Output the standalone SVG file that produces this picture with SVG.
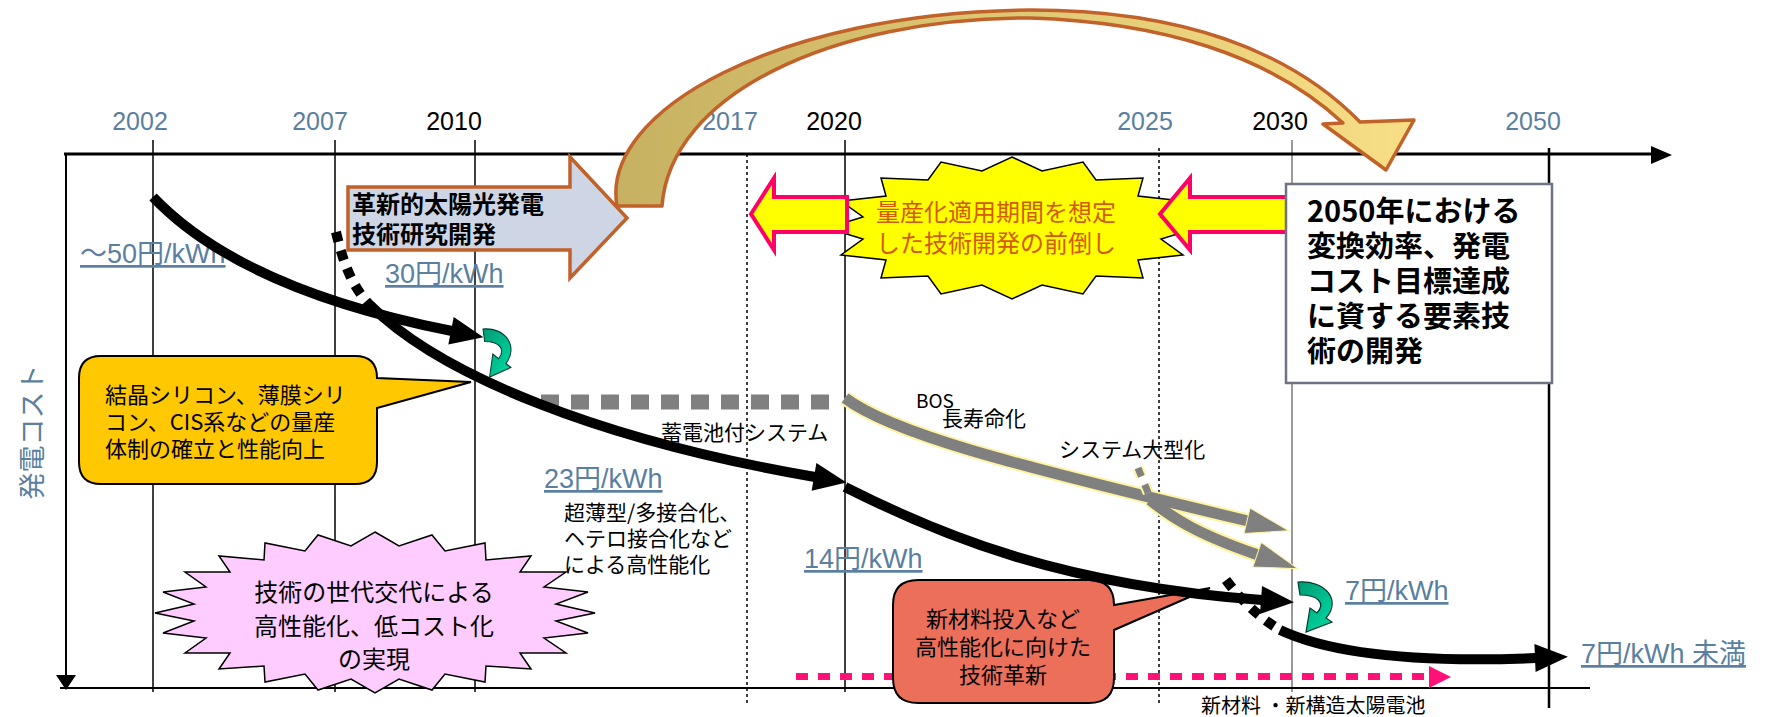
<svg xmlns="http://www.w3.org/2000/svg" width="1768" height="717" viewBox="0 0 1768 717">
<style>
.yr{font-family:'Liberation Sans','Noto Sans CJK JP',sans-serif;font-size:25px;text-anchor:middle}
.blue{fill:#5B7FA0}
.price{font-family:'Liberation Sans','Noto Sans CJK JP',sans-serif;font-size:27px;fill:#5B7FA0;text-decoration:underline}
.jp{font-family:'Noto Sans CJK JP','Liberation Sans',sans-serif;fill:#000}
.grid{stroke:#000;stroke-width:1.5;fill:none}
.dot{stroke:#000;stroke-width:1.5;stroke-dasharray:3 3;fill:none}
.blk{stroke:#000;stroke-width:10;fill:none}
.blkdot{stroke:#000;stroke-width:10;fill:none;stroke-dasharray:10 9}
</style>
<defs>
<marker id="ah" markerUnits="userSpaceOnUse" markerWidth="40" markerHeight="32" refX="1" refY="14" orient="auto" overflow="visible"><path d="M0,0 L33,14 L0,28 Z" fill="#000"/></marker>
<marker id="gah" markerUnits="userSpaceOnUse" markerWidth="48" markerHeight="30" refX="1" refY="13" orient="auto" overflow="visible"><path d="M0,0 L43,13 L0,26 Z" fill="#808080" stroke="#FFF3A0" stroke-width="1"/></marker>
<linearGradient id="gCurve" x1="0" y1="0" x2="1" y2="0"><stop offset="0" stop-color="#C6B162"/><stop offset="1" stop-color="#F8DF86"/></linearGradient>
<linearGradient id="gGreen" x1="0" y1="0" x2="1" y2="1"><stop offset="0" stop-color="#009A74"/><stop offset="1" stop-color="#00DCA4"/></linearGradient>
<path id="curl" d="M0,0 C27,-2 44,18 28,36 L34,40 L8,50 L12,26 L19,31 C28,21 20,13 2,13 Z" fill="url(#gGreen)" stroke="#003B2E" stroke-width="1.2"/>
</defs>

<g id="axes">
<text class="yr blue" x="140" y="130">2002</text>
<text class="yr blue" x="320" y="130">2007</text>
<text class="yr" x="454" y="130">2010</text>
<text class="yr blue" x="730" y="130">2017</text>
<text class="yr" x="834" y="130">2020</text>
<text class="yr blue" x="1145" y="130">2025</text>
<text class="yr" x="1280" y="130">2030</text>
<text class="yr blue" x="1533" y="130">2050</text>
<line class="grid" x1="153" y1="140" x2="153" y2="692"/>
<line class="grid" x1="335" y1="140" x2="335" y2="692"/>
<line class="grid" x1="475" y1="140" x2="475" y2="692"/>
<line class="dot" x1="747" y1="154" x2="747" y2="706"/>
<line class="grid" x1="845" y1="140" x2="845" y2="692"/>
<line class="dot" x1="1159" y1="148" x2="1159" y2="706"/>
<line x1="1292" y1="140" x2="1292" y2="692" stroke="#777" stroke-width="1.5"/>
<line x1="1549" y1="148" x2="1549" y2="708" stroke="#000" stroke-width="2.5"/>
<line x1="64" y1="154" x2="1652" y2="154" stroke="#000" stroke-width="3"/>
<path d="M1651,146 L1672,155 L1651,164 Z" fill="#000"/>
<line x1="66" y1="154" x2="66" y2="677" stroke="#000" stroke-width="2"/>
<path d="M56,675 L66,690 L76,675 Z" fill="#000"/>
<line x1="60" y1="688" x2="1590" y2="688" stroke="#000" stroke-width="2"/>
<text class="jp" transform="translate(42,432) rotate(-90)" text-anchor="middle" font-size="27" fill="#5B7FA0" style="fill:#5B7FA0">発電コスト</text>
</g>

<g id="leap-arrow">
<path d="M617,206 C600,110 780,12 1030,10 C1180,10 1290,50 1360,122 L1414,120 L1386,170 L1323,124 L1343,123 C1270,55 1160,22 1030,18 C830,18 670,95 662,206 Z" fill="url(#gCurve)" stroke="#C0622A" stroke-width="3.5" stroke-linejoin="round"/>
</g>

<g id="rd-arrow">
<path d="M348,187 H570 V157 L627,218 L570,278 V250 H348 Z" fill="#CED6E6" stroke="#C0622A" stroke-width="3.5"/>
<text class="jp" x="352" y="213" font-size="24" font-weight="bold">革新的太陽光発電</text>
<text class="jp" x="352" y="243" font-size="24" font-weight="bold">技術研究開発</text>
</g>

<g id="front-loading">
<polygon points="1012,157 1042,171 1083,162 1096,180 1143,178 1138,196 1183,201 1161,217 1197,228 1161,239 1183,255 1138,260 1143,278 1096,276 1083,294 1042,285 1012,299 982,285 941,294 928,276 881,278 886,260 841,255 863,239 827,228 863,217 841,201 886,196 881,178 928,180 941,162 982,171" fill="#FFFF00" stroke="#000" stroke-width="1.5"/>
<path d="M751,214 L774,178 V197 H847 V232 H774 V250 Z" fill="#FFFF00" stroke="#FF0066" stroke-width="4"/>
<path d="M1160,214 L1190,178 V197 H1291 V232 H1190 V250 Z" fill="#FFFF00" stroke="#FF0066" stroke-width="4"/>
<text class="jp" x="996" y="221" font-size="24" text-anchor="middle" style="fill:#D45A00">量産化適用期間を想定</text>
<text class="jp" x="996" y="252" font-size="24" text-anchor="middle" style="fill:#D45A00">した技術開発の前倒し</text>
</g>

<g id="goal-2050">
<rect x="1286" y="184" width="266" height="199" fill="#FFF" stroke="#6B7385" stroke-width="2.5"/>
<text class="jp" x="1307" y="222" font-size="29" font-weight="bold">2050年における</text>
<text class="jp" x="1307" y="257" font-size="29" font-weight="bold">変換効率、発電</text>
<text class="jp" x="1307" y="292" font-size="29" font-weight="bold">コスト目標達成</text>
<text class="jp" x="1307" y="327" font-size="29" font-weight="bold">に資する要素技</text>
<text class="jp" x="1307" y="362" font-size="29" font-weight="bold">術の開発</text>
</g>

<g id="mass-production-callout">
<path d="M101,356 H355 Q377,356 377,378 L471,382 L377,408 V462 Q377,484 355,484 H101 Q79,484 79,462 V378 Q79,356 101,356 Z" fill="#FFC800" stroke="#000" stroke-width="2"/>
<text class="jp" x="105" y="403" font-size="22">結晶シリコン、薄膜シリ</text>
<text class="jp" x="105" y="430" font-size="22">コン、CIS系などの量産</text>
<text class="jp" x="105" y="457" font-size="22">体制の確立と性能向上</text>
</g>

<g id="generation-star">
<polygon points="375,532 399,546 432,535 445,551 485,543 486,560 531,556 520,572 566,572 544,587 588,592 556,604 595,613 556,621 588,633 544,638 566,653 520,653 531,669 486,666 485,682 445,674 432,690 399,679 375,693 351,679 318,690 305,674 265,682 264,666 219,669 230,653 185,653 206,638 163,633 194,621 155,613 194,604 163,592 206,587 185,572 230,572 219,556 264,560 265,543 305,551 318,535 351,546" fill="#FFCCFF" stroke="#000" stroke-width="1.5"/>
<text class="jp" x="374" y="601" font-size="24" text-anchor="middle">技術の世代交代による</text>
<text class="jp" x="374" y="635" font-size="24" text-anchor="middle">高性能化、低コスト化</text>
<text class="jp" x="374" y="668" font-size="24" text-anchor="middle">の実現</text>
</g>

<g id="new-material-line">
<line x1="796" y1="676.5" x2="1429" y2="676.5" stroke="#FF1177" stroke-width="7" stroke-dasharray="12 10"/>
<path d="M1429,666 L1451,677 L1429,688 Z" fill="#FF1177"/>
<text class="jp" x="1201" y="713" font-size="20">新材料 ・新構造太陽電池</text>
</g>

<g id="innovation-callout">
<path d="M918,580 H1089 Q1114,580 1114,605 L1210,588 L1114,630 V678 Q1114,703 1089,703 H918 Q893,703 893,678 V605 Q893,580 918,580 Z" fill="#EC6F5A" stroke="#000" stroke-width="2"/>
<text class="jp" x="1003" y="627" font-size="22" text-anchor="middle">新材料投入など</text>
<text class="jp" x="1003" y="655" font-size="22" text-anchor="middle">高性能化に向けた</text>
<text class="jp" x="1003" y="683" font-size="22" text-anchor="middle">技術革新</text>
</g>

<g id="labels">
<text class="price" x="80" y="263">～50円/kWh</text>
<text class="price" x="385" y="283">30円/kWh</text>
<text class="price" x="544" y="488">23円/kWh</text>
<text class="price" x="804" y="568">14円/kWh</text>
<text class="price" x="1345" y="600">7円/kWh</text>
<text class="price" x="1581" y="663">7円/kWh 未満</text>
<text class="jp" x="661" y="440" font-size="21">蓄電池付システム</text>
<text class="jp" x="916" y="408" font-size="19">BOS</text>
<text class="jp" x="942" y="426" font-size="21">長寿命化</text>
<text class="jp" x="1059" y="457" font-size="21">システム大型化</text>
<text class="jp" x="564" y="520" font-size="21">超薄型/多接合化、</text>
<text class="jp" x="564" y="546" font-size="21">ヘテロ接合化など</text>
<text class="jp" x="564" y="572" font-size="21">による高性能化</text>
</g>

<g id="connectors">
<line x1="541" y1="402" x2="838" y2="402" stroke="#808080" stroke-width="15" stroke-dasharray="18 12"/>
<path d="M845,398 C890,432 1000,462 1248,521" stroke="#FFF3A0" stroke-width="15" fill="none"/>
<path d="M1150,500 C1175,520 1200,535 1258,555" stroke="#FFF3A0" stroke-width="15" fill="none"/>
<path d="M845,398 C890,432 1000,462 1248,521" stroke="#808080" stroke-width="11" fill="none" marker-end="url(#gah)"/>
<path d="M1150,500 C1175,520 1200,535 1258,555" stroke="#808080" stroke-width="11" fill="none" marker-end="url(#gah)"/>
<path d="M1138,468 L1151,500" stroke="#FFF3A0" stroke-width="11" stroke-dasharray="9 9" fill="none"/>
<path d="M1138,468 L1151,500" stroke="#808080" stroke-width="7" stroke-dasharray="9 9" fill="none"/>
<path class="blk" d="M153,197 C215,262 320,305 452,331" marker-end="url(#ah)"/>
<path class="blkdot" d="M336,232 C343,262 352,288 372,307"/>
<path class="blk" d="M370,305 C440,375 600,440 815,477" marker-end="url(#ah)"/>
<path class="blk" d="M845,487 C940,535 1060,585 1262,600" marker-end="url(#ah)"/>
<path class="blkdot" d="M1226,580 Q1250,612 1280,630"/>
<path class="blk" d="M1280,630 C1340,658 1440,662 1536,658" marker-end="url(#ah)"/>
<use href="#curl" transform="translate(483,329) scale(0.82,0.96)"/>
<use href="#curl" transform="translate(1298,582)"/>
</g>
</svg>
